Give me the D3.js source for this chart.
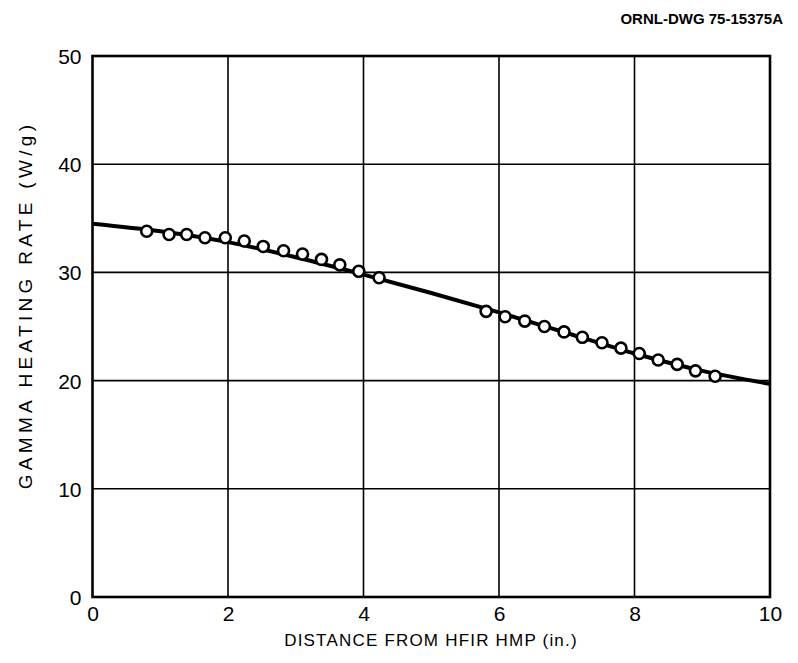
<html>
<head>
<meta charset="utf-8">
<style>
  body { margin: 0; background: #fff; }
  text { font-family: "Liberation Sans", Arial, sans-serif; fill: #000; }
</style>
</head>
<body>
<svg id="chart"></svg>
<script src="https://d3js.org/d3.v7.min.js"></script>
<script>
// measured points (circles)
var pointX = [0.80, 1.13, 1.39, 1.66, 1.96, 2.24, 2.52, 2.82, 3.10, 3.38, 3.65, 3.93, 4.23,
              5.81, 6.09, 6.38, 6.67, 6.96, 7.23, 7.52, 7.80, 8.07, 8.35, 8.63, 8.90, 9.19];
var pointY = [33.8, 33.5, 33.5, 33.2, 33.2, 32.9, 32.4, 32.0, 31.7, 31.2, 30.7, 30.1, 29.5,
              26.4, 25.9, 25.5, 25.0, 24.5, 24.0, 23.5, 23.0, 22.5, 21.9, 21.5, 20.9, 20.4];

// calculated curve
var curveX = [0, 1, 2, 3, 4, 5, 6, 7, 8, 9, 10];
var curveY = [34.5, 33.8, 32.8, 31.4, 29.8, 28.1, 26.3, 24.4, 22.5, 20.9, 19.7];

var xTicks = [0, 2, 4, 6, 8, 10];
var yTicks = [0, 10, 20, 30, 40, 50];

var screen = {width: 798, height: 663};
var margins = {left: 92.5, right: 28, top: 56, bottom: 66};
var graph = {
    width: screen.width - margins.left - margins.right,
    height: screen.height - margins.top - margins.bottom
};

var svg = d3.select("#chart")
    .attr("width", screen.width)
    .attr("height", screen.height);

var xScale = d3.scaleLinear().domain([0, 10]).range([0, graph.width]);
var yScale = d3.scaleLinear().domain([0, 50]).range([graph.height, 0]);

var g = svg.append("g")
    .attr("transform", "translate(" + margins.left + "," + margins.top + ")");

// grid
g.selectAll(".vgrid")
    .data(xTicks.slice(1, -1))
    .enter().append("line")
    .attr("x1", function(d) { return xScale(d); })
    .attr("x2", function(d) { return xScale(d); })
    .attr("y1", 0).attr("y2", graph.height)
    .attr("stroke", "#000").attr("stroke-width", 1.6);

g.selectAll(".hgrid")
    .data(yTicks.slice(1, -1))
    .enter().append("line")
    .attr("y1", function(d) { return yScale(d); })
    .attr("y2", function(d) { return yScale(d); })
    .attr("x1", 0).attr("x2", graph.width)
    .attr("stroke", "#000").attr("stroke-width", 1.6);

// frame
g.append("rect")
    .attr("width", graph.width).attr("height", graph.height)
    .attr("fill", "none").attr("stroke", "#000").attr("stroke-width", 2.6);

// axes (labels only, lines drawn by the frame)
var xAxis = d3.axisBottom(xScale).tickValues(xTicks).tickSize(0).tickPadding(9);
var yAxis = d3.axisLeft(yScale).tickValues(yTicks).tickSize(0).tickPadding(11);

g.append("g").attr("transform", "translate(0," + graph.height + ")").call(xAxis)
    .call(function(a) { a.select(".domain").remove(); })
    .selectAll("text").style("font-size", "21px");

g.append("g").call(yAxis)
    .call(function(a) { a.select(".domain").remove(); })
    .selectAll("text").style("font-size", "21px").attr("dy", "0.36em");

// curve
var line = d3.line()
    .x(function(d) { return xScale(d[0]); })
    .y(function(d) { return yScale(d[1]); })
    .curve(d3.curveMonotoneX);

g.append("path")
    .datum(d3.zip(curveX, curveY))
    .attr("d", line)
    .attr("fill", "none").attr("stroke", "#000").attr("stroke-width", 4);

// data points
g.selectAll(".pt")
    .data(d3.zip(pointX, pointY))
    .enter().append("circle")
    .attr("cx", function(d) { return xScale(d[0]); })
    .attr("cy", function(d) { return yScale(d[1]); })
    .attr("r", 5.5)
    .attr("fill", "#fff").attr("stroke", "#000").attr("stroke-width", 2.6);

// titles
svg.append("text")
    .attr("x", 431).attr("y", 646)
    .attr("text-anchor", "middle")
    .style("font-size", "17px").style("letter-spacing", "1.2px")
    .text("DISTANCE FROM HFIR HMP (in.)");

svg.append("text")
    .attr("transform", "translate(32,305) rotate(-90)")
    .attr("text-anchor", "middle")
    .style("font-size", "19px").style("letter-spacing", "4.3px")
    .text("GAMMA HEATING RATE (W/g)");

svg.append("text")
    .attr("x", 783).attr("y", 24)
    .attr("text-anchor", "end")
    .style("font-size", "15px").style("font-weight", "bold")
    .text("ORNL-DWG 75-15375A");
</script>
</body>
</html>
